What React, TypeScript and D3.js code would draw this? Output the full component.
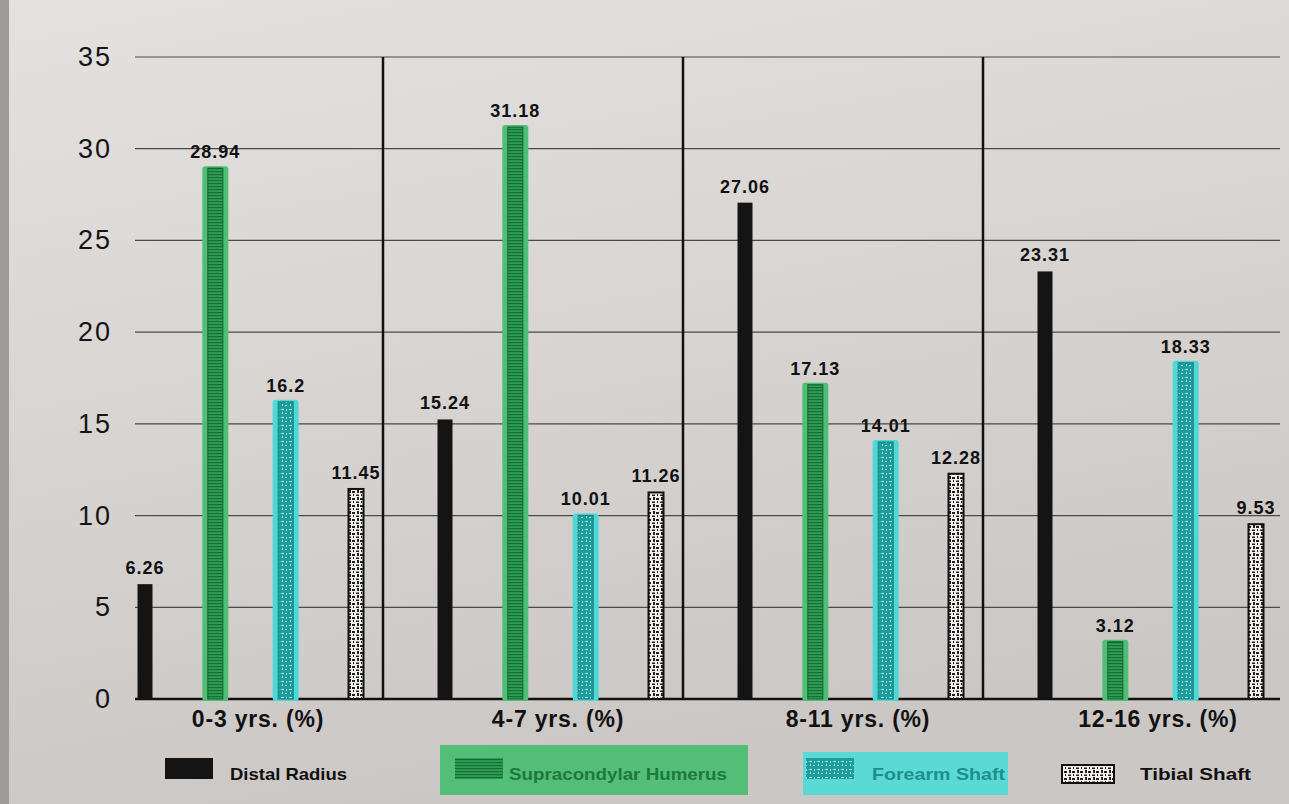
import React, { useEffect } from "react";
import * as d3 from "d3";

const groups = ["0-3 yrs. (%)", "4-7 yrs. (%)", "8-11 yrs. (%)", "12-16 yrs. (%)"];
const series = ["Distal Radius", "Supracondylar Humerus", "Forearm Shaft", "Tibial Shaft"];
const distalRadius = [6.26, 15.24, 27.06, 23.31];
const supracondylarHumerus = [28.94, 31.18, 17.13, 3.12];
const forearmShaft = [16.2, 10.01, 14.01, 18.33];
const tibialShaft = [11.45, 11.26, 12.28, 9.53];
const yTicks = [0, 5, 10, 15, 20, 25, 30, 35];

const seriesValues = [distalRadius, supracondylarHumerus, forearmShaft, tibialShaft];

const W = 1289;
const H = 804;
const plotLeft = 135;
const plotRight = 1280;
const groupStep = 300;
const barW = 15;

const legendX = [165, 455, 806, 1062];
const legendTextX = [230, 509, 872, 1140];
const legendTextW = [117, 218, 133, 111];
const legendTextColor = ["#111", "#1c7a3c", "#1d8f8c", "#111"];
const halo = [null, "#4fbf75", "#4ed8d6", null];
const fills = ["#141414", "url(#pGreen)", "url(#pCyan)", "url(#pTibial)"];

export default function App() {
  useEffect(() => {
    document.body.style.margin = "0";
  }, []);

  const y = d3.scaleLinear().domain([0, 35]).range([699, 57]);
  const x0 = d3
    .scaleBand<string>()
    .domain(groups)
    .range([133, 133 + groupStep * groups.length])
    .paddingInner(0)
    .paddingOuter(0);
  const x1 = d3.scalePoint<string>().domain(series).range([12, 223]);

  const labelCenter = (g: string) => (x0(g) as number) + 125;

  return (
    <svg width={W} height={H} style={{ display: "block", fontFamily: "'Liberation Sans', Arial, sans-serif" }}>
      <defs>
        <linearGradient id="bg" x1="0" y1="0" x2="0.3" y2="1">
          <stop offset="0" stopColor="#e4e2e0" />
          <stop offset="1" stopColor="#cbc7c5" />
        </linearGradient>
        <pattern id="pGreen" width="6" height="3" patternUnits="userSpaceOnUse">
          <rect width="6" height="3" fill="#2e9c55" />
          <rect y="0" width="6" height="1.2" fill="#157035" />
        </pattern>
        <pattern id="pCyan" width="8" height="8" patternUnits="userSpaceOnUse">
          <rect width="8" height="8" fill="#1f9d9c" />
          <rect x="1" y="1" width="3" height="1" fill="#a6e6e2" />
          <rect x="5" y="5" width="2" height="1" fill="#a6e6e2" />
          <rect x="6" y="1" width="1" height="2" fill="#a6e6e2" />
          <rect x="2" y="4" width="1" height="2" fill="#a6e6e2" />
        </pattern>
        <pattern id="pTibial" width="8" height="7" patternUnits="userSpaceOnUse">
          <rect width="8" height="7" fill="#f2f0ee" />
          <rect x="0" y="1" width="3" height="2" fill="#222" />
          <rect x="5" y="0" width="2" height="3" fill="#222" />
          <rect x="4" y="4.5" width="3" height="1.5" fill="#222" />
          <rect x="1" y="4" width="1" height="2" fill="#222" />
        </pattern>
      </defs>
      <rect width={W} height={H} fill="url(#bg)" />
      <rect width={9} height={H} fill="#9e9a98" />

      {/* gridlines */}
      {yTicks.map((t) => (
        <line
          key={"g" + t}
          x1={plotLeft}
          x2={plotRight}
          y1={y(t)}
          y2={y(t)}
          stroke={t === 0 ? "#111" : "#4a4a4a"}
          strokeWidth={t === 0 ? 2.5 : 1.2}
        />
      ))}
      {yTicks.map((t) => (
        <text key={"t" + t} x={112} y={y(t) + 9} textAnchor="end" fontSize={27} letterSpacing={2} fill="#151515">
          {t}
        </text>
      ))}

      {/* separators */}
      {groups.slice(1).map((g) => (
        <line
          key={"s" + g}
          x1={(x0(g) as number) - 50}
          x2={(x0(g) as number) - 50}
          y1={y(35)}
          y2={y(0)}
          stroke="#111"
          strokeWidth={2.5}
        />
      ))}

      {/* bars */}
      {groups.map((g, gi) =>
        series.map((s, si) => {
          const v = seriesValues[si][gi];
          const cx = (x0(g) as number) + (x1(s) as number);
          const top = y(v);
          return (
            <g key={g + s}>
              {halo[si] && (
                <rect x={cx - 13} y={top - 2} width={26} height={y(0) - top + 4} fill={halo[si] as string} rx={3} />
              )}
              <rect
                x={cx - barW / 2}
                y={top}
                width={barW}
                height={y(0) - top}
                fill={fills[si]}
                stroke={si === 3 ? "#111" : si === 0 ? "none" : si === 1 ? "#14602f" : "#187a7a"}
                strokeWidth={si === 3 ? 2 : 1}
              />
              <text x={cx} y={top - 10} textAnchor="middle" fontSize={18} letterSpacing={1} fontWeight="bold" fill="#111">
                {v}
              </text>
            </g>
          );
        })
      )}

      {/* group labels */}
      {groups.map((g) => (
        <text key={"l" + g} x={labelCenter(g)} y={727} textAnchor="middle" fontSize={23} letterSpacing={0.8} fontWeight="bold" fill="#111">
          {g}
        </text>
      ))}

      {/* legend */}
      {series.map((s, si) => {
        const lx = legendX[si];
        return (
          <g key={"lg" + s}>
            {si === 1 && <rect x={lx - 15} y={745} width={308} height={50} fill="#52be77" />}
            {si === 2 && <rect x={lx - 3} y={752} width={205} height={43} fill="#5ad9d5" />}
            <rect
              x={lx}
              y={758}
              width={si === 3 ? 52 : 48}
              height={si === 3 ? 18 : 21}
              transform={si === 3 ? "translate(0,7)" : undefined}
              fill={fills[si]}
              stroke={si === 3 ? "#111" : "none"}
              strokeWidth={2}
            />
            <text
              x={legendTextX[si]}
              y={780}
              fontSize={17}
              fontWeight="bold"
              fill={legendTextColor[si]}
              textLength={legendTextW[si]}
              lengthAdjust="spacingAndGlyphs"
            >
              {s}
            </text>
          </g>
        );
      })}
    </svg>
  );
}
